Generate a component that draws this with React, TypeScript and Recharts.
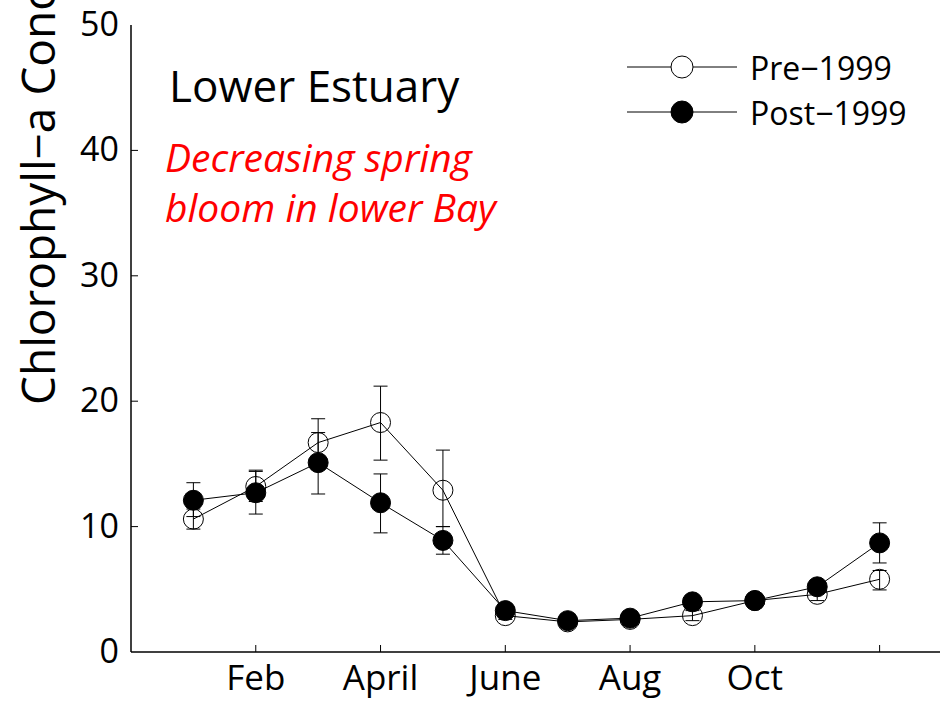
import React from 'react';
import { LineChart, Line, XAxis, YAxis, ErrorBar, Legend } from 'recharts';

// monthly chlorophyll-a means, lower estuary
const months = [1, 2, 3, 4, 5, 6, 7, 8, 9, 10, 11, 12];
const xTicks = [2, 4, 6, 8, 10, 12];
const xTickLabels: Record<number, string> = { 2: 'Feb', 4: 'April', 6: 'June', 8: 'Aug', 10: 'Oct', 12: '' };
const yTicks = [0, 10, 20, 30, 40, 50];

const preMean = [10.6, 13.2, 16.7, 18.3, 12.9, 2.9, 2.4, 2.6, 2.9, 4.1, 4.6, 5.8];
const preLow = [9.8, 12.0, 15.0, 15.3, 10.0, 2.6, 2.2, 2.4, 2.5, 3.9, 4.1, 4.95];
const preHigh = [11.4, 14.5, 18.6, 21.2, 16.1, 3.2, 2.6, 2.8, 3.3, 4.3, 5.1, 6.5];

const postMean = [12.1, 12.7, 15.1, 11.9, 8.9, 3.3, 2.5, 2.7, 4.0, 4.1, 5.2, 8.7];
const postLow = [10.8, 11.0, 12.6, 9.5, 7.8, 3.0, 2.3, 2.5, 3.7, 3.9, 4.9, 7.1];
const postHigh = [13.5, 14.4, 17.5, 14.2, 10.0, 3.6, 2.7, 2.9, 4.3, 4.3, 5.5, 10.3];

const data = months.map((m, i) => ({
  month: m,
  pre: preMean[i],
  preErr: [preMean[i] - preLow[i], preHigh[i] - preMean[i]],
  post: postMean[i],
  postErr: [postMean[i] - postLow[i], postHigh[i] - postMean[i]],
}));

const FONT = '"Open Sans", "Noto Sans", sans-serif';
const TICK_LEN = 7;

function BottomTick(props: any) {
  const { x, y, payload } = props;
  return (
    <g>
      <line x1={x} x2={x} y1={y} y2={y - TICK_LEN} stroke="#000" strokeWidth={1} />
      <text x={x} y={y + 38} textAnchor="middle" fontSize={35} fontFamily={FONT} fill="#000">
        {xTickLabels[payload.value]}
      </text>
    </g>
  );
}

function TopTick(props: any) {
  const { x, y } = props;
  return <line x1={x} x2={x} y1={y} y2={y + TICK_LEN} stroke="#000" strokeWidth={1} />;
}

function LeftTick(props: any) {
  const { x, y, payload } = props;
  const inner = payload.value > 0 && payload.value < 50;
  return (
    <g>
      {inner && <line x1={x} x2={x + TICK_LEN} y1={y} y2={y} stroke="#000" strokeWidth={1} />}
      <text x={x - 12} y={y + 11} textAnchor="end" fontSize={34} fontFamily={FONT} fill="#000">
        {payload.value}
      </text>
    </g>
  );
}

function RightTick(props: any) {
  const { x, y, payload } = props;
  if (payload.value <= 0 || payload.value >= 50) return <g />;
  return <line x1={x} x2={x - TICK_LEN} y1={y} y2={y} stroke="#000" strokeWidth={1} />;
}

function LegendBox() {
  return (
    <svg width={320} height={100} style={{ display: 'block' }}>
      <line x1={7} x2={117} y1={27} y2={27} stroke="#000" strokeWidth={1} />
      <circle cx={62} cy={27} r={11} fill="#fff" stroke="#000" strokeWidth={1} />
      <text x={130} y={40} fontSize={32} fontFamily={FONT} fill="#000">Pre−1999</text>
      <line x1={7} x2={117} y1={72} y2={72} stroke="#000" strokeWidth={1} />
      <circle cx={62} cy={72} r={11} fill="#000" stroke="#000" strokeWidth={1} />
      <text x={130} y={85} fontSize={32} fontFamily={FONT} fill="#000">Post−1999</text>
    </svg>
  );
}

export default function App() {
  return (
    <div
      style={{
        position: 'fixed',
        left: 0,
        top: 0,
        width: 940,
        height: 701,
        overflow: 'hidden',
        background: '#fff',
      }}
    >
      <LineChart width={942} height={701} data={data} margin={{ top: 25, right: 0, left: 0, bottom: 0 }}>
        <XAxis
          dataKey="month"
          type="number"
          domain={[0, 13]}
          ticks={xTicks}
          interval={0}
          height={49}
          tickSize={0}
          tickMargin={0}
          tickLine={false}
          axisLine={{ stroke: '#000', strokeWidth: 1.5 }}
          tick={<BottomTick />}
          allowDataOverflow
        />
        <XAxis
          xAxisId="top"
          orientation="top"
          dataKey="month"
          type="number"
          domain={[0, 13]}
          ticks={xTicks}
          interval={0}
          height={0}
          tickSize={0}
          tickMargin={0}
          tickLine={false}
          axisLine={{ stroke: '#000', strokeWidth: 1.5 }}
          tick={<TopTick />}
        />
        <YAxis
          type="number"
          domain={[0, 50]}
          ticks={yTicks}
          interval={0}
          width={131}
          tickSize={0}
          tickMargin={0}
          tickLine={false}
          axisLine={{ stroke: '#000', strokeWidth: 1.5 }}
          tick={<LeftTick />}
          allowDataOverflow
        />
        <YAxis
          yAxisId="right"
          orientation="right"
          type="number"
          domain={[0, 50]}
          ticks={yTicks}
          interval={0}
          width={0}
          tickSize={0}
          tickMargin={0}
          tickLine={false}
          axisLine={{ stroke: '#000', strokeWidth: 1.5 }}
          tick={<RightTick />}
        />
        <Legend
          layout="vertical"
          align="center"
          verticalAlign="middle"
          content={() => <LegendBox />}
          wrapperStyle={{ position: 'absolute', left: 620, top: 40, width: 320, height: 100 }}
        />
        <Line
          dataKey="pre"
          name="Pre−1999"
          stroke="#000"
          strokeWidth={1}
          dot={{ r: 10, fill: 'none', stroke: '#000', strokeWidth: 1 }}
          activeDot={false}
          isAnimationActive={false}
        >
          <ErrorBar dataKey="preErr" width={7} stroke="#000" strokeWidth={1} direction="y" />
        </Line>
        <Line
          dataKey="post"
          name="Post−1999"
          stroke="#000"
          strokeWidth={1}
          dot={{ r: 10, fill: '#000', stroke: '#000', strokeWidth: 1 }}
          activeDot={false}
          isAnimationActive={false}
        >
          <ErrorBar dataKey="postErr" width={7} stroke="#000" strokeWidth={1} direction="y" />
        </Line>
      </LineChart>
      <svg
        width={940}
        height={701}
        style={{ position: 'absolute', left: 0, top: 0, pointerEvents: 'none' }}
      >
        <text
          x={55}
          y={405}
          transform="rotate(-90, 55, 405)"
          fontSize={46}
          fontFamily={FONT}
          fill="#000"
        >
          Chlorophyll−a Concentration (µg/L)
        </text>
        <text x={169} y={102} fontSize={44} fontFamily={FONT} fill="#000">
          Lower Estuary
        </text>
        <text x={165} y={172} fontSize={39} fontStyle="italic" fontFamily={FONT} fill="#ff0000">
          Decreasing spring
        </text>
        <text x={165} y={222} fontSize={39} fontStyle="italic" fontFamily={FONT} fill="#ff0000">
          bloom in lower Bay
        </text>
      </svg>
    </div>
  );
}
